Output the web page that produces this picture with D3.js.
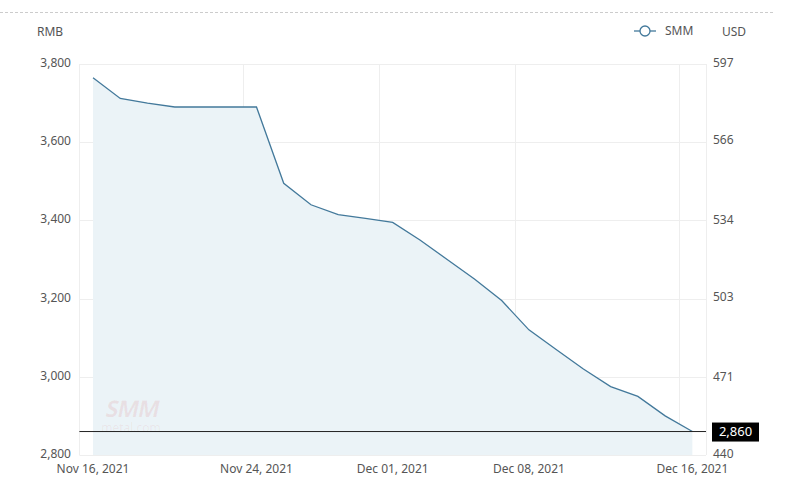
<!DOCTYPE html>
<html>
<head>
  <meta charset="utf-8">
  <title>SMM price</title>
  <script src="https://cdn.jsdelivr.net/npm/d3@7/dist/d3.min.js"></script>
  <style>
    body { margin: 0; background: #fff; }
    text { font-family: "Noto Sans", "Open Sans", sans-serif; }
  </style>
</head>
<body>
<svg width="788" height="495"></svg>

<script>
  // trading days, Nov 16 - Dec 16 2021
  var dates = ["2021-11-16","2021-11-17","2021-11-18","2021-11-19","2021-11-22","2021-11-23",
    "2021-11-24","2021-11-25","2021-11-26","2021-11-29","2021-11-30","2021-12-01","2021-12-02",
    "2021-12-03","2021-12-06","2021-12-07","2021-12-08","2021-12-09","2021-12-10","2021-12-13",
    "2021-12-14","2021-12-15","2021-12-16"];
  var prices = [3765, 3712, 3700, 3690, 3690, 3690, 3690, 3495, 3440, 3415, 3405, 3395, 3350,
    3300, 3250, 3195, 3120, 3070, 3020, 2975, 2950, 2900, 2860];
  var xTickDates = ["2021-11-16","2021-11-24","2021-12-01","2021-12-08","2021-12-16"];
  var rmbTicks = [2800, 3000, 3200, 3400, 3600, 3800];
  var usdTicks = [440, 471, 503, 534, 566, 597];

  var svg = d3.select("svg");
  var plotLeft = 79.4, plotRight = 706, plotTop = 64, plotBottom = 455;
  var lineColor = "#43799b";

  var x = d3.scalePoint().domain(dates).range([plotLeft, plotRight]).padding(0.5);
  var step = x.step();
  var y = d3.scaleLinear().domain([2800, 3800]).range([plotBottom, plotTop]);
  var yUsd = d3.scaleLinear().domain([440, 597]).range([plotBottom, plotTop]);
  var fmtDate = d3.timeFormat("%b %d, %Y");
  var parse = d3.timeParse("%Y-%m-%d");

  // top dashed line
  svg.append("line")
    .attr("x1", 0).attr("x2", 775).attr("y1", 12.5).attr("y2", 12.5)
    .attr("stroke", "#ccc").attr("stroke-dasharray", "3,2");

  // grid
  svg.append("g").selectAll("line").data(rmbTicks).join("line")
    .attr("x1", plotLeft).attr("x2", plotRight)
    .attr("y1", d => Math.round(y(d)) + 0.5).attr("y2", d => Math.round(y(d)) + 0.5)
    .attr("stroke", "#eeeeee");
  svg.append("g").selectAll("line").data(xTickDates.slice(1)).join("line")
    .attr("x1", d => Math.round(x(d) - step / 2) + 0.5).attr("x2", d => Math.round(x(d) - step / 2) + 0.5)
    .attr("y1", plotTop).attr("y2", plotBottom)
    .attr("stroke", "#eeeeee");
  [plotLeft, plotRight].forEach(function(v) {
    svg.append("line").attr("x1", Math.round(v) + 0.5).attr("x2", Math.round(v) + 0.5)
      .attr("y1", plotTop).attr("y2", plotBottom).attr("stroke", "#eeeeee");
  });

  // area + line
  var area = d3.area().x((d, i) => x(dates[i])).y0(plotBottom).y1(d => y(d));
  svg.append("path").datum(prices).attr("d", area).attr("fill", "#ebf3f7");

  // watermark
  svg.append("text").attr("transform", "translate(131,417) skewX(-12)").attr("text-anchor", "middle")
    .style("font-size", "23px").style("font-weight", "bold").style("letter-spacing", "-1px")
    .attr("fill", "rgba(210,40,40,0.09)").text("SMM");
  svg.append("text").attr("x", 131).attr("y", 432).attr("text-anchor", "middle")
    .style("font-size", "12px").attr("fill", "rgba(210,40,40,0.07)").text("metal.com");

  var line = d3.line().x((d, i) => x(dates[i])).y(d => y(d));
  svg.append("path").datum(prices).attr("d", line)
    .attr("fill", "none").attr("stroke", lineColor).attr("stroke-width", 1.3);

  // last value line
  var last = prices[prices.length - 1];
  svg.append("line")
    .attr("x1", plotLeft).attr("x2", plotRight)
    .attr("y1", y(last)).attr("y2", y(last))
    .attr("stroke", "#222").attr("stroke-width", 1);
  svg.append("rect").attr("x", 712).attr("y", y(last) - 9).attr("width", 47).attr("height", 19)
    .attr("fill", "#000");
  svg.append("text").attr("x", 735.5).attr("y", y(last) + 4.5).attr("text-anchor", "middle")
    .style("font-size", "13px").attr("fill", "#fff").text(d3.format(",")(last));

  // left axis labels
  svg.append("g").selectAll("text").data(rmbTicks).join("text")
    .attr("x", 71).attr("y", d => y(d) + 3).attr("text-anchor", "end")
    .style("font-size", "12px").attr("fill", "#555")
    .text(d => d3.format(",")(d));

  // right axis labels
  svg.append("g").selectAll("text").data(usdTicks).join("text")
    .attr("x", 713).attr("y", d => yUsd(d) + 3)
    .style("font-size", "12px").attr("fill", "#555")
    .text(d => d);

  // x labels
  svg.append("g").selectAll("text").data(xTickDates).join("text")
    .attr("x", d => x(d)).attr("y", 473).attr("text-anchor", "middle")
    .style("font-size", "12px").attr("fill", "#555")
    .text(d => fmtDate(parse(d)));

  // units
  svg.append("text").attr("x", 37).attr("y", 36).style("font-size", "12px").attr("fill", "#555").text("RMB");
  svg.append("text").attr("x", 722).attr("y", 36).style("font-size", "12px").attr("fill", "#555").text("USD");

  // legend
  svg.append("line").attr("x1", 634).attr("x2", 656).attr("y1", 31).attr("y2", 31)
    .attr("stroke", lineColor).attr("stroke-width", 1.3);
  svg.append("circle").attr("cx", 645).attr("cy", 31).attr("r", 5)
    .attr("fill", "#fff").attr("stroke", lineColor).attr("stroke-width", 1.3);
  svg.append("text").attr("x", 665).attr("y", 35).style("font-size", "12px").attr("fill", "#555").text("SMM");
</script>
</body>
</html>
